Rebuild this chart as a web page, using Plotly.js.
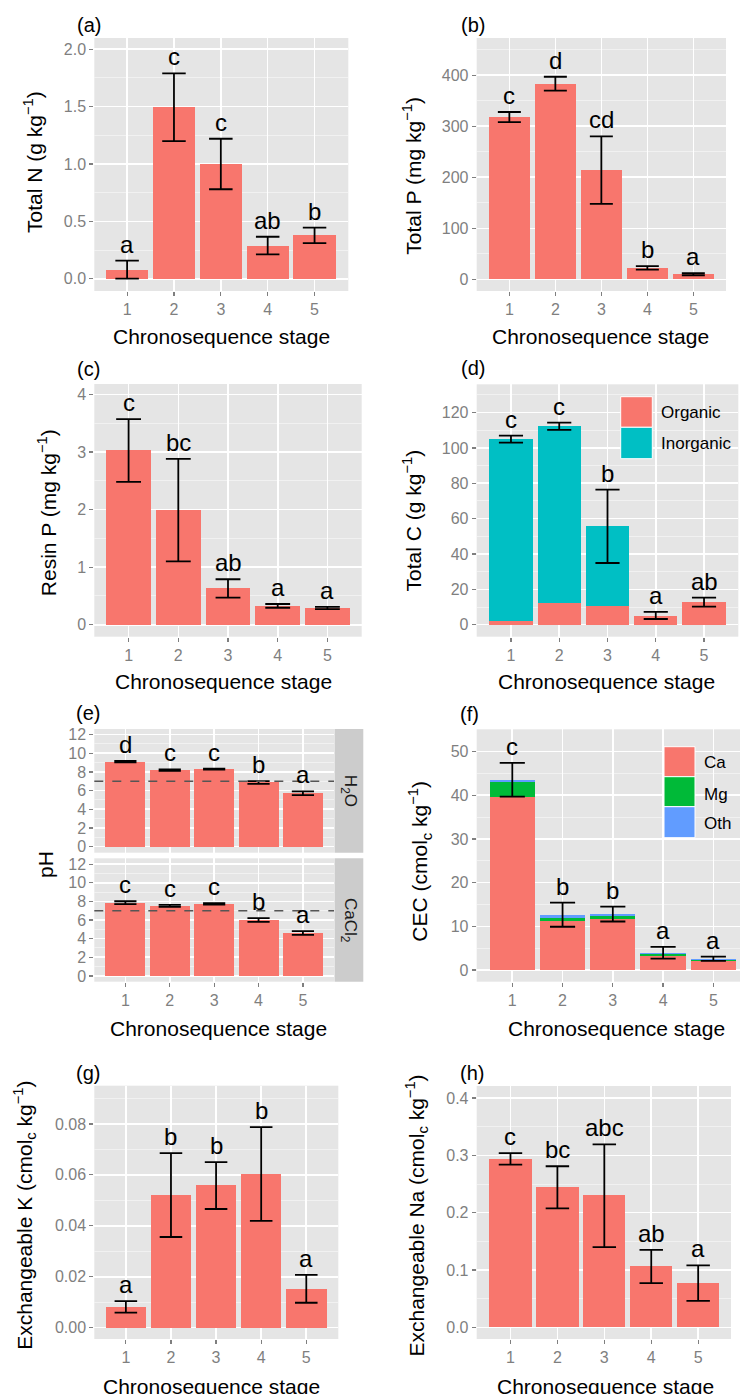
<!DOCTYPE html>
<html>
<head>
<meta charset="utf-8">
<script src="https://cdn.plot.ly/plotly-3.0.1.min.js"></script>
<style>html,body{margin:0;padding:0;background:#fff;}#chart{width:740px;height:1394px;}</style>
</head>
<body>
<div id="chart"></div>
<script>
// ---------------- DATA ----------------
const stages = [1, 2, 3, 4, 5];

// (a) Total N (g/kg)
const totalN      = [0.08, 1.50, 1.00, 0.285, 0.38];
const totalNUpper = [0.157, 1.79, 1.22, 0.366, 0.445];
const totalNLower = [0.0, 1.20, 0.78, 0.213, 0.311];
const totalNLetters = ['a', 'c', 'c', 'ab', 'b'];

// (b) Total P (mg/kg)
const totalP      = [318, 383, 214, 22, 10];
const totalPUpper = [328, 397, 280, 26, 12];
const totalPLower = [308, 370, 148, 19, 8];
const totalPLetters = ['c', 'd', 'cd', 'b', 'a'];

// (c) Resin P (mg/kg)
const resinP      = [3.03, 1.99, 0.63, 0.325, 0.29];
const resinPUpper = [3.57, 2.88, 0.79, 0.36, 0.31];
const resinPLower = [2.48, 1.10, 0.47, 0.295, 0.27];
const resinPLetters = ['c', 'bc', 'ab', 'a', 'a'];

// (d) Total C (g/kg): organic + inorganic
const organicC   = [2.1, 12.3, 10.8, 5.1, 12.8];
const inorganicC = [103.0, 100.2, 45.1, 0, 0];
const totalCUpper = [107, 114.3, 76.4, 7.2, 15.3];
const totalCLower = [103, 110.2, 34.9, 3.2, 10.2];
const totalCLetters = ['c', 'c', 'b', 'a', 'ab'];
const totalCSeries = ['Organic', 'Inorganic'];

// (e) pH in H2O and CaCl2
const pHH2O      = [9.11, 8.20, 8.30, 6.87, 5.72];
const pHH2OErr   = [0.08, 0.08, 0.06, 0.15, 0.20];
const pHH2OLetters = ['d', 'c', 'c', 'b', 'a'];
const pHCaCl2    = [7.87, 7.52, 7.73, 6.00, 4.60];
const pHCaCl2Err = [0.15, 0.10, 0.08, 0.20, 0.20];
const pHCaCl2Letters = ['c', 'c', 'c', 'b', 'a'];
const neutralPH = 7;
const pHFacets = ['H<sub>2</sub>O', 'CaCl<sub>2</sub>'];

// (f) CEC (cmolc/kg): Ca + Mg + Oth
const cecCa  = [39.5, 11.3, 11.7, 3.2, 2.05];
const cecMg  = [3.6, 0.7, 0.7, 0.45, 0.25];
const cecOth = [0.4, 0.5, 0.4, 0.25, 0.2];
const cecUpper = [47.4, 15.4, 14.5, 5.27, 3.05];
const cecLower = [39.7, 9.9, 11.1, 2.6, 2.1];
const cecLetters = ['c', 'b', 'b', 'a', 'a'];
const cecSeries = ['Ca', 'Mg', 'Oth'];

// (g) Exchangeable K
const exK      = [0.0081, 0.0521, 0.0560, 0.0604, 0.0152];
const exKUpper = [0.0104, 0.0685, 0.0650, 0.0787, 0.0207];
const exKLower = [0.0059, 0.0356, 0.0466, 0.0419, 0.0098];
const exKLetters = ['a', 'b', 'b', 'b', 'a'];

// (h) Exchangeable Na
const exNa      = [0.293, 0.245, 0.231, 0.107, 0.077];
const exNaUpper = [0.304, 0.281, 0.319, 0.135, 0.108];
const exNaLower = [0.284, 0.2075, 0.140, 0.077, 0.046];
const exNaLetters = ['c', 'bc', 'abc', 'ab', 'a'];

// ---------------- STYLE ----------------
const W = 740, H = 1394;
const FONT = 'Liberation Sans, Arial, Helvetica, sans-serif';
const RED = '#F8766D', TEAL = '#00BFC4', GREEN = '#00BA38', BLUE = '#619CFF';
const GRID = '#FFFFFF', MINOR = '#F2F2F2', TICKC = '#7F7F7F';
const px = v => v / W;
const py = v => 1 - v / H;

const traces = [];
const annotations = [];
const shapes = [];
const layout = {
  width: W, height: H,
  margin: {l: 0, r: 0, t: 0, b: 0},
  paper_bgcolor: '#FFFFFF',
  plot_bgcolor: '#E5E5E5',
  barmode: 'stack',
  showlegend: false,
  font: {family: FONT, color: '#000'},
};

// panel geometry: [x0,x1] px, [ytop,ybottom] px
const panels = {
  a:  {k: '',  dx: [94.3, 348.3], dy: [38, 291],     xr: [0.30, 5.72], yr: [-0.107, 2.098], dtick: 0.5,  fmt: '.1f', minor: 0.25, sp: 47},
  b:  {k: '2', dx: [476.7, 726],  dy: [38, 291],     xr: [0.29, 5.71], yr: [-22.9, 473],    dtick: 100,  fmt: 'd',   minor: 50,   sp: 46},
  c:  {k: '3', dx: [94.3, 361.7], dy: [384, 636.7],  xr: [0.31, 5.69], yr: [-0.208, 4.18],  dtick: 1,    fmt: 'd',   minor: 0.5,  sp: 49.7},
  d:  {k: '4', dx: [476.7, 738.3],dy: [384.3, 636.7],xr: [0.29, 5.71], yr: [-6.8, 136],     dtick: 20,   fmt: 'd',   minor: 10,   sp: 48.3},
  e1: {k: '5', dx: [94.3, 334],   dy: [729, 852.7],  xr: [0.30, 5.70], yr: [-0.65, 12.6],   dtick: 2,    fmt: 'd',   minor: 1,    sp: 44.4, noX: true},
  e2: {k: '6', dx: [94.3, 334],   dy: [858.3, 981.7],xr: [0.30, 5.70], yr: [-0.62, 12.63],  dtick: 2,    fmt: 'd',   minor: 1,    sp: 44.4},
  f:  {k: '7', dx: [476.7, 740],  dy: [729.3, 981.7],xr: [0.292, 5.53],yr: [-2.68, 55.1],   dtick: 10,   fmt: 'd',   minor: 5,    sp: 50.25},
  g:  {k: '8', dx: [94.3, 338.3], dy: [1085.7, 1339],xr: [0.30, 5.71], yr: [-0.00444, 0.0950], dtick: 0.02, fmt: '.2f', minor: 0.01, sp: 45.1},
  h:  {k: '9', dx: [476.7, 731],  dy: [1086, 1339],  xr: [0.28, 5.70], yr: [-0.0204, 0.421], dtick: 0.1, fmt: '.1f', minor: 0.05, sp: 46.9},
};

Object.values(panels).forEach(p => {
  const xn = 'xaxis' + p.k, yn = 'yaxis' + p.k;
  layout[xn] = {
    domain: [px(p.dx[0]), px(p.dx[1])],
    range: p.xr, anchor: 'y' + p.k,
    tickmode: 'linear', tick0: 0, dtick: 1,
    showgrid: true, gridcolor: GRID, gridwidth: 1.6,
    zeroline: false, showline: false,
    ticks: p.noX ? '' : 'outside', ticklen: 4, tickwidth: 1.2, tickcolor: TICKC,
    showticklabels: !p.noX,
    tickfont: {family: FONT, size: 16, color: TICKC},
    fixedrange: true,
  };
  layout[yn] = {
    domain: [py(p.dy[1]), py(p.dy[0])],
    range: p.yr, anchor: 'x' + p.k,
    tickmode: 'linear', tick0: 0, dtick: p.dtick, tickformat: p.fmt,
    showgrid: true, gridcolor: GRID, gridwidth: 1.6,
    minor: {tick0: 0, dtick: p.minor, showgrid: true, gridcolor: MINOR, gridwidth: 0.9, ticks: ''},
    zeroline: false, showline: false,
    ticks: 'outside', ticklen: 4, tickwidth: 1.2, tickcolor: TICKC,
    tickfont: {family: FONT, size: 16, color: TICKC},
    fixedrange: true,
  };
});

function bar(p, y, color, name) {
  traces.push({
    type: 'bar', x: stages, y: y, width: 0.9, name: name,
    marker: {color: color, line: {width: 0}},
    xaxis: 'x' + p.k, yaxis: 'y' + p.k, hoverinfo: 'skip',
  });
}
function errs(p, yCenter, upper, lower) {
  traces.push({
    type: 'scatter', mode: 'markers', x: stages, y: yCenter,
    marker: {size: 1, color: 'rgba(0,0,0,0)'},
    error_y: {
      type: 'data', symmetric: false,
      array: upper.map((u, i) => u - yCenter[i]),
      arrayminus: lower.map((l, i) => yCenter[i] - l),
      color: '#000', thickness: 1.8, width: 0.25 * p.sp,
    },
    xaxis: 'x' + p.k, yaxis: 'y' + p.k, hoverinfo: 'skip',
  });
}
function letters(p, upper, labs) {
  stages.forEach((s, i) => {
    annotations.push({
      x: s, y: upper[i], xref: 'x' + p.k, yref: 'y' + p.k,
      text: labs[i], showarrow: false, yanchor: 'bottom', xanchor: 'center',
      yshift: 1, font: {family: FONT, size: 24, color: '#000'},
    });
  });
}
function txt(xp, yp, text, size, opts) {
  annotations.push(Object.assign({
    x: px(xp), y: py(yp), xref: 'paper', yref: 'paper',
    text: text, showarrow: false, xanchor: 'center', yanchor: 'middle',
    font: {family: FONT, size: size, color: '#000'},
  }, opts || {}));
}

// (a)
bar(panels.a, totalN, RED, 'Total N');
errs(panels.a, totalN, totalNUpper, totalNLower);
letters(panels.a, totalNUpper, totalNLetters);
// (b)
bar(panels.b, totalP, RED, 'Total P');
errs(panels.b, totalP, totalPUpper, totalPLower);
letters(panels.b, totalPUpper, totalPLetters);
// (c)
bar(panels.c, resinP, RED, 'Resin P');
errs(panels.c, resinP, resinPUpper, resinPLower);
letters(panels.c, resinPUpper, resinPLetters);
// (d)
bar(panels.d, organicC, RED, totalCSeries[0]);
bar(panels.d, inorganicC, TEAL, totalCSeries[1]);
const totalC = organicC.map((v, i) => v + inorganicC[i]);
errs(panels.d, totalC, totalCUpper, totalCLower);
letters(panels.d, totalCUpper, totalCLetters);
// (e)
bar(panels.e1, pHH2O, RED, 'H2O');
errs(panels.e1, pHH2O, pHH2O.map((v, i) => v + pHH2OErr[i]), pHH2O.map((v, i) => v - pHH2OErr[i]));
letters(panels.e1, pHH2O.map((v, i) => v + pHH2OErr[i]), pHH2OLetters);
bar(panels.e2, pHCaCl2, RED, 'CaCl2');
errs(panels.e2, pHCaCl2, pHCaCl2.map((v, i) => v + pHCaCl2Err[i]), pHCaCl2.map((v, i) => v - pHCaCl2Err[i]));
letters(panels.e2, pHCaCl2.map((v, i) => v + pHCaCl2Err[i]), pHCaCl2Letters);
['5', '6'].forEach(k => shapes.push({
  type: 'line', xref: 'x' + k + ' domain', x0: 0, x1: 1, yref: 'y' + k, y0: neutralPH, y1: neutralPH,
  line: {color: '#555555', width: 1.5, dash: 'dash'}, layer: 'above',
}));
// strips
[[729, 852.7, pHFacets[0]], [858.3, 981.7, pHFacets[1]]].forEach(s => {
  shapes.push({type: 'rect', xref: 'paper', yref: 'paper', x0: px(334.5), x1: px(363.3), y0: py(s[1]), y1: py(s[0]),
    fillcolor: '#CCCCCC', line: {width: 0}, layer: 'below'});
  txt(349, (s[0] + s[1]) / 2, s[2], 17, {textangle: 90, font: {family: FONT, size: 17, color: '#1A1A1A'}});
});
// (f)
bar(panels.f, cecCa, RED, cecSeries[0]);
bar(panels.f, cecMg, GREEN, cecSeries[1]);
bar(panels.f, cecOth, BLUE, cecSeries[2]);
const cecTotal = cecCa.map((v, i) => v + cecMg[i] + cecOth[i]);
errs(panels.f, cecTotal, cecUpper, cecLower);
letters(panels.f, cecUpper, cecLetters);
// (g)
bar(panels.g, exK, RED, 'K');
errs(panels.g, exK, exKUpper, exKLower);
letters(panels.g, exKUpper, exKLetters);
// (h)
bar(panels.h, exNa, RED, 'Na');
errs(panels.h, exNa, exNaUpper, exNaLower);
letters(panels.h, exNaUpper, exNaLetters);

// legends (d) and (f)
function legendBox(x0, x1, y0, y1, color) {
  shapes.push({type: 'rect', xref: 'paper', yref: 'paper', x0: px(x0), x1: px(x1), y0: py(y1), y1: py(y0),
    fillcolor: color, line: {color: '#FFFFFF', width: 1}, layer: 'above'});
}
legendBox(620.7, 652.3, 396.7, 427.3, RED);
legendBox(620.7, 652.3, 427.3, 458.7, TEAL);
txt(659.3, 412.7, totalCSeries[0], 17, {xanchor: 'left'});
txt(659.3, 443.3, totalCSeries[1], 17, {xanchor: 'left'});
legendBox(664, 695, 746.7, 776.7, RED);
legendBox(664, 695, 776.7, 806.7, GREEN);
legendBox(664, 695, 806.7, 837.7, BLUE);
txt(701.7, 762.7, cecSeries[0], 17, {xanchor: 'left'});
txt(701.7, 794, cecSeries[1], 17, {xanchor: 'left'});
txt(701.7, 823.3, cecSeries[2], 17, {xanchor: 'left'});

// panel tags
[['(a)', 89, 25], ['(b)', 472.5, 25], ['(c)', 88, 369], ['(d)', 472.5, 368],
 ['(e)', 88, 713], ['(f)', 469, 714], ['(g)', 87.5, 1073], ['(h)', 472, 1073]]
  .forEach(t => txt(t[1], t[2], t[0], 20));

// axis titles
const XT = 'Chronosequence stage';
[[221.7, 336.7], [600, 336.5], [223.3, 681.7], [606.7, 681.7], [218.3, 1028.3], [616.7, 1028.3], [211.7, 1386.7], [605, 1386.7]]
  .forEach(c => txt(c[0], c[1], XT, 21));
[['Total N (g kg<sup>−1</sup>)', 33, 162],
 ['Total P (mg kg<sup>−1</sup>)', 411.7, 176],
 ['Resin P (mg kg<sup>−1</sup>)', 46.7, 512.5],
 ['Total C (g kg<sup>−1</sup>)', 411.7, 520.8],
 ['pH', 45, 865],
 ['CEC (cmol<sub>c</sub> kg<sup>−1</sup>)', 420, 861.7],
 ['Exchangeable K (cmol<sub>c</sub> kg<sup>−1</sup>)', 25, 1215.8],
 ['Exchangeable Na (cmol<sub>c</sub> kg<sup>−1</sup>)', 416.7, 1215.8]]
  .forEach(t => txt(t[1], t[2], t[0], 21, {textangle: -90}));

layout.annotations = annotations;
layout.shapes = shapes;

Plotly.newPlot('chart', traces, layout, {staticPlot: true, displayModeBar: false});
</script>
</body>
</html>
